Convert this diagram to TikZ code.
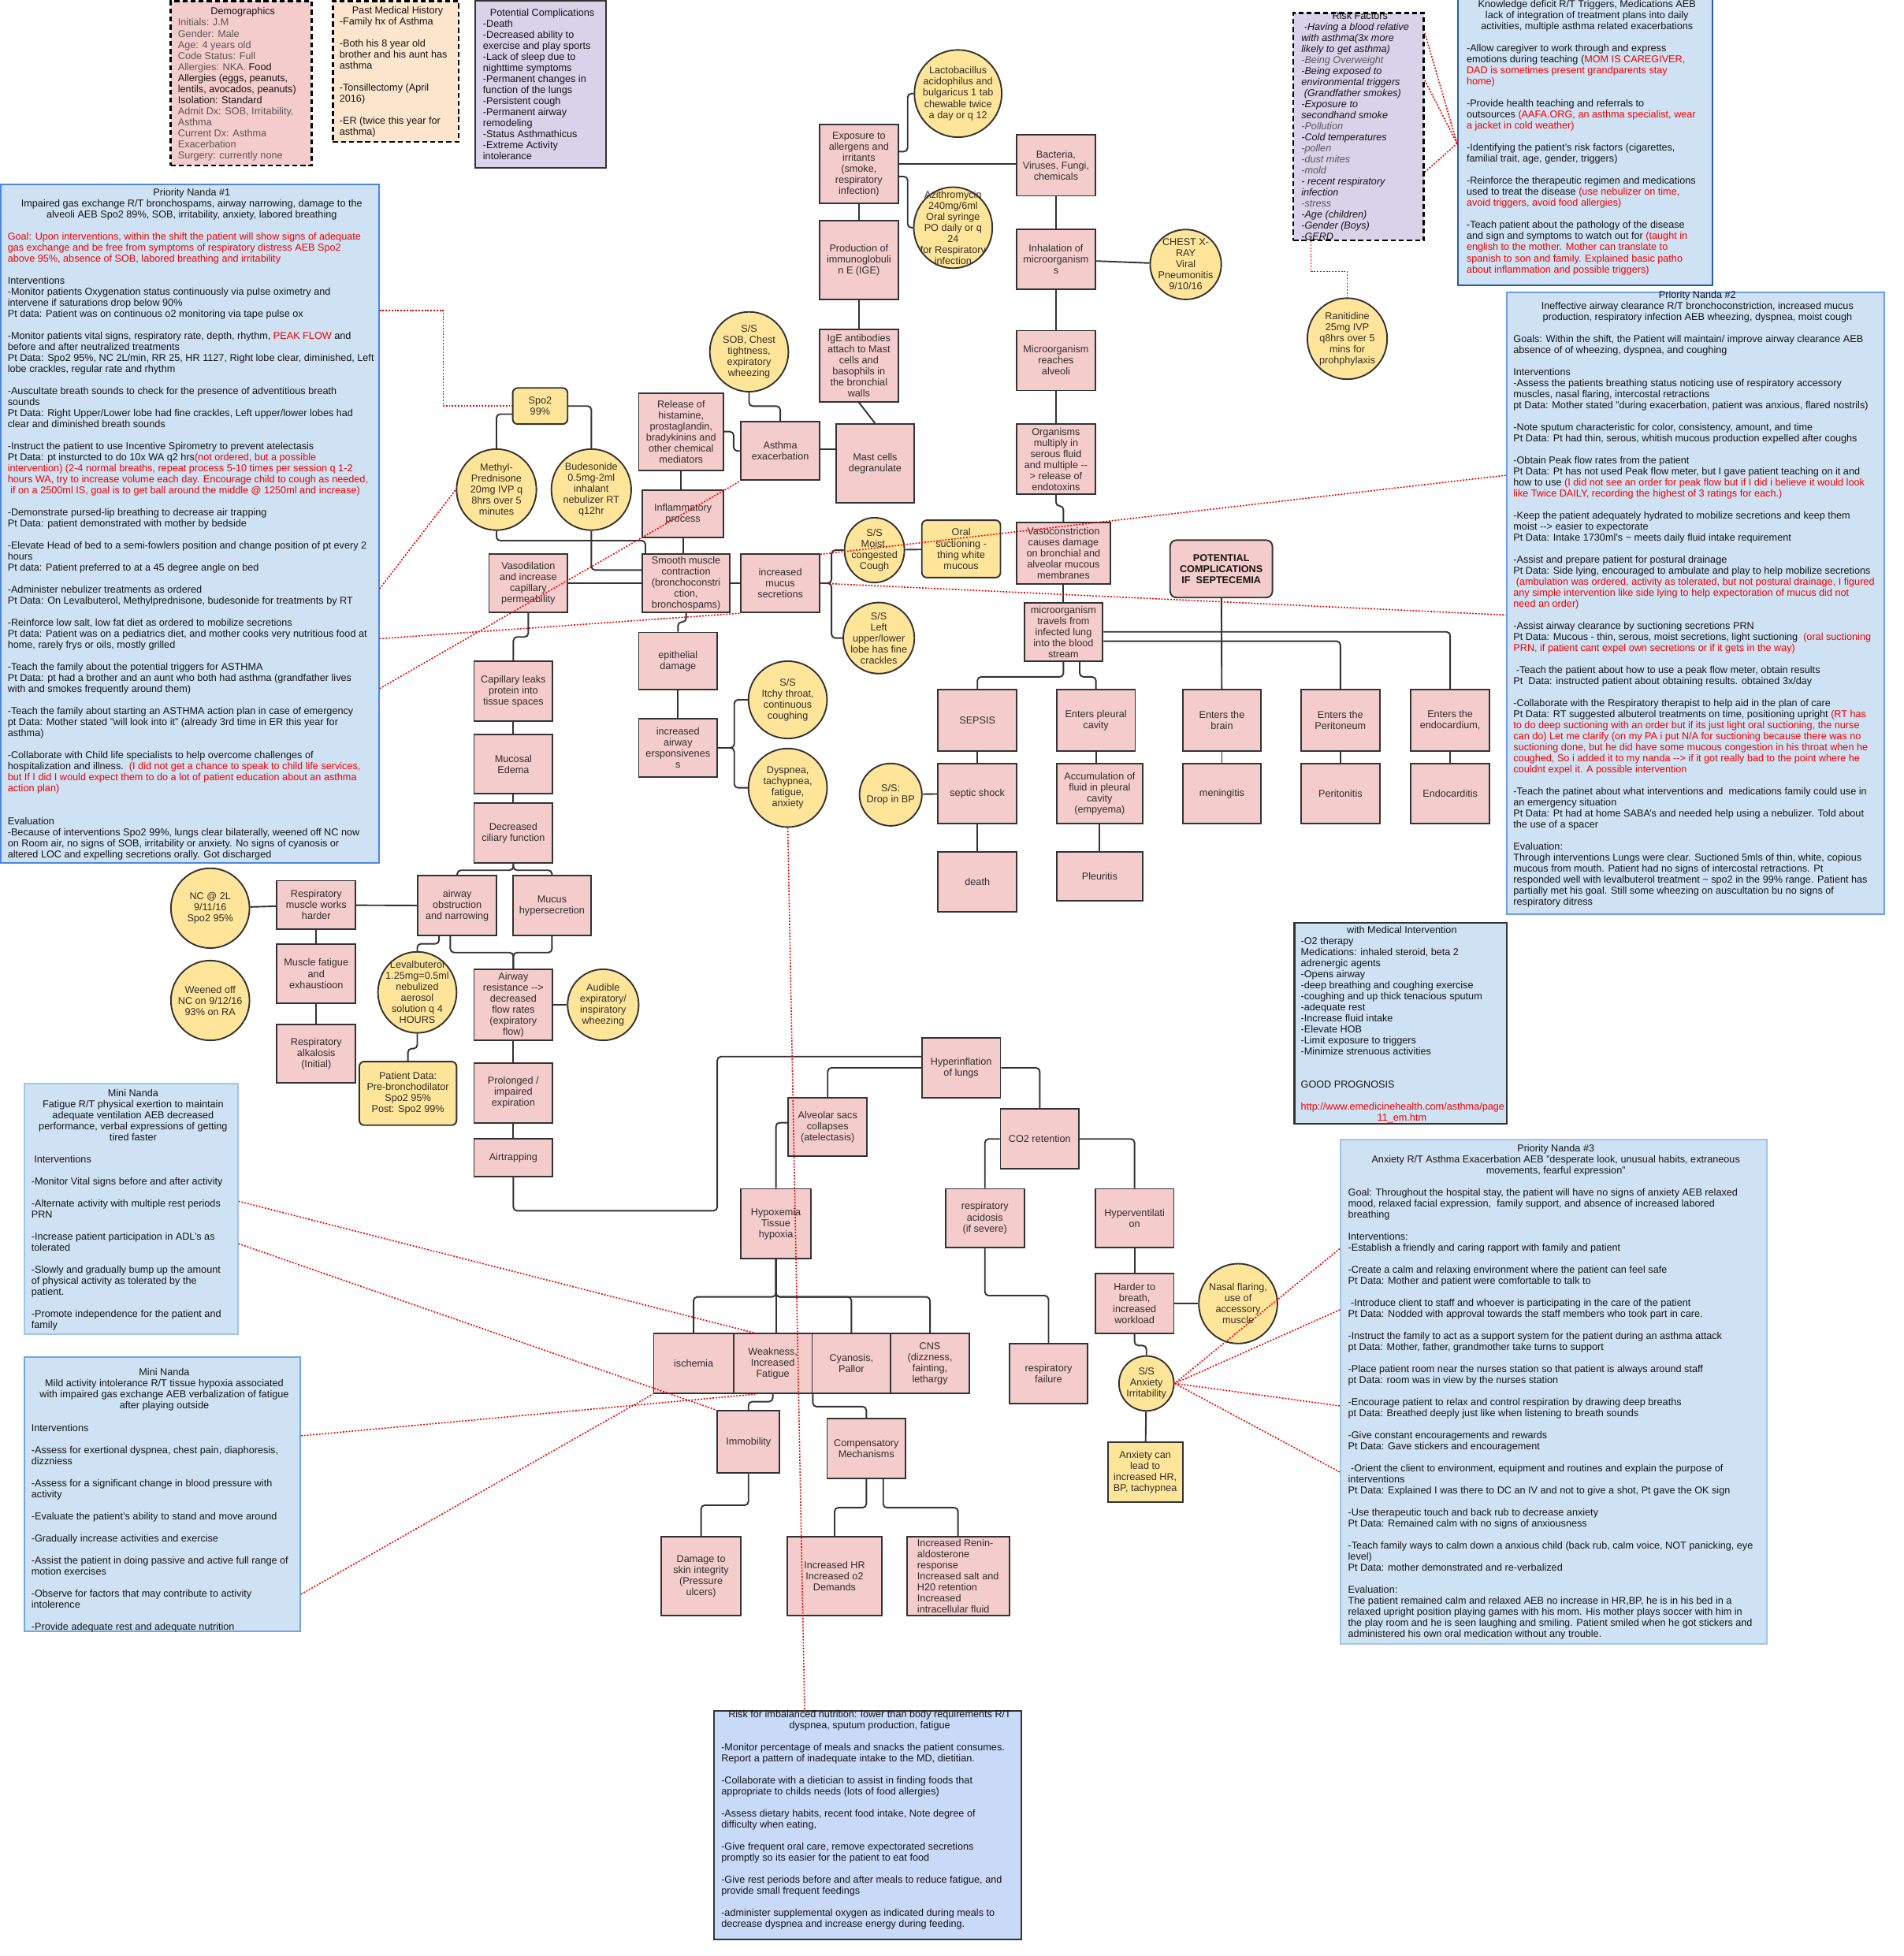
\documentclass[tikz,border=0pt]{standalone}
\usepackage{fontspec}
\setmainfont{Liberation Sans}
\usetikzlibrary{shapes.geometric,positioning,calc}
\definecolor{pinkc}{HTML}{F4CCCC}
\definecolor{yelc}{HTML}{FFE599}
\definecolor{bluec}{HTML}{CFE2F3}
\definecolor{nutric}{HTML}{C9DAF8}
\definecolor{peachc}{HTML}{FCE5CD}
\definecolor{lilac}{HTML}{D9D2E9}
\definecolor{linec}{HTML}{333333}
\definecolor{txtc}{HTML}{141414}
\definecolor{nodet}{HTML}{2E2E2E}
\definecolor{greyt}{HTML}{575757}
\definecolor{redc}{HTML}{F20000}
\definecolor{blueA}{HTML}{4A86E8}
\definecolor{blueB}{HTML}{6D9EEB}
\definecolor{blueC}{HTML}{9FC5E8}
\definecolor{blueD}{HTML}{6FA8DC}
\definecolor{navy}{HTML}{2A5CAA}
\newcommand{\nfont}{\fontsize{8}{8.85}\selectfont}
\setlength{\parindent}{0pt}

\begin{document}
\begin{tikzpicture}[x=1pt, y=-1pt,
  sz/.style 2 args={minimum width=#1pt, minimum height=#2pt},
  pbox/.style={rectangle, draw=linec, line width=1.2pt, fill=pinkc, text=nodet, align=center, font=\nfont, inner xsep=1pt, inner ysep=0.5pt},
  ybox/.style={pbox, fill=yelc, rounded corners=4pt},
  bub/.style={ellipse, draw=linec, line width=1.2pt, fill=yelc, inner sep=0pt},
  bubt/.style={align=center, font=\nfont, text=nodet, inner sep=0pt},
  panel/.style={rectangle, draw=#1, line width=1.3pt, anchor=north west, inner sep=0pt},
  dashpanel/.style={panel=black, line width=1.6pt, dash pattern=on 4pt off 2.5pt},
  blurb/.style={anchor=north west, text width=#1pt, align=flush left, font=\nfont, text=txtc, inner sep=0pt},
  link/.style={draw=linec, line width=1.2pt, rounded corners=3pt},
  note/.style={draw=redc, line width=1pt, dash pattern=on 1.2pt off 1.2pt}
]
\path[use as bounding box, fill=white] (0,0) rectangle (1526,1568);

% ---------- info panels ----------
\node[dashpanel, fill=pinkc, sz={113}{132}] (demo) at (136,0) {};
\node[blurb=104] (demotxt) at (142.5,6) {{\centering Demographics\par}
{\color{greyt}Initials: J.M\\
Gender: Male\\
Age: 4 years old\\
Code Status: Full\\
Allergies: NKA. }Food\\
Allergies (eggs, peanuts,\\
lentils, avocados, peanuts)\\
Isolation: Standard\\
{\color{greyt}Admit Dx: SOB, Irritability,\\
Asthma\\
Current Dx: Asthma\\
Exacerbation\\
Surgery: currently none}};

\node[dashpanel, fill=peachc, sz={101}{113}] (pmh) at (266,0) {};
\node[blurb=93] (pmhtxt) at (272,5.2) {{\centering Past Medical History\par}
-Family hx of Asthma\\[8.85pt]
-Both his 8 year old\\
brother and his aunt has\\
asthma\\[8.85pt]
-Tonsillectomy (April\\
2016)\\[8.85pt]
-ER (twice this year for\\
asthma)};

\node[panel=linec, fill=lilac, sz={105}{134}] (potc) at (380,0) {};
\node[blurb=95] (potctxt) at (387,6.7) {{\centering Potential Complications\par}
-Death\\
-Decreased ability to\\
exercise and play sports\\
-Lack of sleep due to\\
nighttime symptoms\\
-Permanent changes in\\
function of the lungs\\
-Persistent cough\\
-Permanent airway\\
remodeling\\
-Status Asthmathicus\\
-Extreme Activity\\
intolerance};

\node[dashpanel, fill=lilac, sz={104.6}{182.5}] (risk) at (1036,9.5) {};
\node[blurb=94] (risktxt) at (1043,9.2) {{\centering Risk Factors\par}
\itshape
\hspace*{2.2pt}-Having a blood relative\\
with asthma(3x more\\
likely to get asthma)\\
{\color{greyt}-Being Overweight}\\
-Being exposed to\\
environmental triggers\\
\hspace*{2.2pt}(Grandfather smokes)\\
-Exposure to\\
secondhand smoke\\
{\color{greyt}-Pollution}\\
-Cold temperatures\\
{\color{greyt}-pollen\\
-dust mites\\
-mold}\\
- recent respiratory\\
infection\\
{\color{greyt}-stress}\\
-Age (children)\\
-Gender (Boys)\\
-GERD};

\node[panel=navy, line width=1.6pt, fill=bluec, sz={204}{230}] (know) at (1168,-2) {};
\node[blurb=193] (knowtxt) at (1175.5,0.2) {{\centering Knowledge deficit R/T Triggers, Medications AEB\\
lack of integration of treatment plans into daily\\
activities, multiple asthma related exacerbations\par}
\vspace{8.85pt}
-Allow caregiver to work through and express\\
emotions during teaching ({\color{redc}MOM IS CAREGIVER,\\
DAD is sometimes present grandparents stay\\
home)}\\[8.85pt]
-Provide health teaching and referrals to\\
outsources {\color{redc}(AAFA.ORG, an asthma specialist, wear\\
a jacket in cold weather)}\\[8.85pt]
-Identifying the patient's risk factors (cigarettes,\\
familial trait, age, gender, triggers)\\[8.85pt]
-Reinforce the therapeutic regimen and medications\\
used to treat the disease {\color{redc}(use nebulizer on time,\\
avoid triggers, avoid food allergies)}\\[8.85pt]
-Teach patient about the pathology of the disease\\
and sign and symptoms to watch out for {\color{redc}(taught in\\
english to the mother. Mother can translate to\\
spanish to son and family. Explained basic patho\\
about inflammation and possible triggers)}};

\node[panel=blueA, fill=bluec, sz={303}{544}] (nandaA) at (0,147) {};
\node[blurb=295] (nandaAtxt) at (6,150.7) {{\centering Priority Nanda \#1\\
Impaired gas exchange R/T bronchospams, airway narrowing, damage to the\\
alveoli AEB Spo2 89\%, SOB, irritability, anxiety, labored breathing\par}
\vspace{8.85pt}
{\color{redc}Goal: Upon interventions, within the shift the patient will show signs of adequate\\
gas exchange and be free from symptoms of respiratory distress AEB Spo2\\
above 95\%, absence of SOB, labored breathing and irritability}\\[8.85pt]
Interventions\\
-Monitor patients Oxygenation status continuously via pulse oximetry and\\
intervene if saturations drop below 90\%\\
Pt data: Patient was on continuous o2 monitoring via tape pulse ox\\[8.85pt]
-Monitor patients vital signs, respiratory rate, depth, rhythm, {\color{redc}PEAK FLOW} and\\
before and after neutralized treatments\\
Pt Data: Spo2 95\%, NC 2L/min, RR 25, HR 1127, Right lobe clear, diminished, Left\\
lobe crackles, regular rate and rhythm\\[8.85pt]
-Auscultate breath sounds to check for the presence of adventitious breath\\
sounds\\
Pt Data: Right Upper/Lower lobe had fine crackles, Left upper/lower lobes had\\
clear and diminished breath sounds\\[8.85pt]
-Instruct the patient to use Incentive Spirometry to prevent atelectasis\\
Pt Data: pt insturcted to do 10x WA q2 hrs{\color{redc}(not ordered, but a possible\\
intervention) (2-4 normal breaths, repeat process 5-10 times per session q 1-2\\
hours WA, try to increase volume each day. Encourage child to cough as needed,\\
\hspace*{2.2pt}if on a 2500ml IS, goal is to get ball around the middle @ 1250ml and increase)}\\[8.85pt]
-Demonstrate pursed-lip breathing to decrease air trapping\\
Pt Data: patient demonstrated with mother by bedside\\[8.85pt]
-Elevate Head of bed to a semi-fowlers position and change position of pt every 2\\
hours\\
Pt data: Patient preferred to at a 45 degree angle on bed\\[8.85pt]
-Administer nebulizer treatments as ordered\\
Pt Data: On Levalbuterol, Methylprednisone, budesonide for treatments by RT\\[8.85pt]
-Reinforce low salt, low fat diet as ordered to mobilize secretions\\
Pt data: Patient was on a pediatrics diet, and mother cooks very nutritious food at\\
home, rarely frys or oils, mostly grilled\\[8.85pt]
-Teach the family about the potential triggers for ASTHMA\\
Pt Data: pt had a brother and an aunt who both had asthma (grandfather lives\\
with and smokes frequently around them)\\[8.85pt]
-Teach the family about starting an ASTHMA action plan in case of emergency\\
pt Data: Mother stated "will look into it" (already 3rd time in ER this year for\\
asthma)\\[8.85pt]
-Collaborate with Child life specialists to help overcome challenges of\\
hospitalization and illness.\ \ {\color{redc}(I did not get a chance to speak to child life services,\\
but If I did I would expect them to do a lot of patient education about an asthma\\
action plan)}\\[17.7pt]
Evaluation\\
-Because of interventions Spo2 99\%, lungs clear bilaterally, weened off NC now\\
on Room air, no signs of SOB, irritability or anxiety. No signs of cyanosis or\\
altered LOC and expelling secretions orally. Got discharged};

\node[panel=blueB, fill=bluec, sz={303}{498}] (nandaB) at (1207,234) {};
\node[blurb=295] (nandaBtxt) at (1213,233) {{\centering Priority Nanda \#2\\
Ineffective airway clearance R/T bronchoconstriction, increased mucus\\
production, respiratory infection AEB wheezing, dyspnea, moist cough\par}
\vspace{8.85pt}
Goals: Within the shift, the Patient will maintain/ improve airway clearance AEB\\
absence of of wheezing, dyspnea, and coughing\\[8.85pt]
Interventions\\
-Assess the patients breathing status noticing use of respiratory accessory\\
muscles, nasal flaring, intercostal retractions\\
pt Data: Mother stated "during exacerbation, patient was anxious, flared nostrils)\\[8.85pt]
-Note sputum characteristic for color, consistency, amount, and time\\
Pt Data: Pt had thin, serous, whitish mucous production expelled after coughs\\[8.85pt]
-Obtain Peak flow rates from the patient\\
Pt Data: Pt has not used Peak flow meter, but I gave patient teaching on it and\\
how to use {\color{redc}(I did not see an order for peak flow but if I did i believe it would look\\
like Twice DAILY, recording the highest of 3 ratings for each.)}\\[8.85pt]
-Keep the patient adequately hydrated to mobilize secretions and keep them\\
moist -{}-> easier to expectorate\\
Pt Data: Intake 1730ml's \textasciitilde{} meets daily fluid intake requirement\\[8.85pt]
-Assist and prepare patient for postural drainage\\
Pt Data: Side lying, encouraged to ambulate and play to help mobilize secretions\\
\hspace*{2.2pt}{\color{redc}(ambulation was ordered, activity as tolerated, but not postural drainage, I figured\\
any simple intervention like side lying to help expectoration of mucus did not\\
need an order)}\\[8.85pt]
-Assist airway clearance by suctioning secretions PRN\\
Pt Data: Mucous - thin, serous, moist secretions, light suctioning\ \ {\color{redc}(oral suctioning\\
PRN, if patient cant expel own secretions or if it gets in the way)}\\[8.85pt]
\hspace*{2.2pt}-Teach the patient about how to use a peak flow meter, obtain results\\
Pt\ \ Data: instructed patient about obtaining results. obtained 3x/day\\[8.85pt]
-Collaborate with the Respiratory therapist to help aid in the plan of care\\
Pt Data: RT suggested albuterol treatments on time, positioning upright {\color{redc}(RT has\\
to do deep suctioning with an order but if its just light oral suctioning, the nurse\\
can do) Let me clarify (on my PA i put N/A for suctioning because there was no\\
suctioning done, but he did have some mucous congestion in his throat when he\\
coughed, So i added it to my nanda -{}-> if it got really bad to the point where he\\
couldnt expel it. A possible intervention}\\[8.85pt]
-Teach the patinet about what interventions and\ \ medications family could use in\\
an emergency situation\\
Pt Data: Pt had at home SABA's and needed help using a nebulizer. Told about\\
the use of a spacer\\[8.85pt]
Evaluation:\\
Through interventions Lungs were clear. Suctioned 5mls of thin, white, copious\\
mucous from mouth. Patient had no signs of intercostal retractions. Pt\\
responded well with levalbuterol treatment \textasciitilde{} spo2 in the 99\% range. Patient has\\
partially met his goal. Still some wheezing on auscultation bu no signs of\\
respiratory ditress};

\node[panel=linec, fill=bluec, sz={170}{161}] (medi) at (1037,739) {};
\node[blurb=162] (meditxt) at (1042.6,742) {{\centering with Medical Intervention\par}
-O2 therapy\\
Medications: inhaled steroid, beta 2\\
adrenergic agents\\
-Opens airway\\
-deep breathing and coughing exercise\\
-coughing and up thick tenacious sputum\\
-adequate rest\\
-Increase fluid intake\\
-Elevate HOB\\
-Limit exposure to triggers\\
-Minimize strenuous activities\\[17.7pt]
GOOD PROGNOSIS\par
\vspace{8.85pt}
{\centering\color{redc}http://www.emedicinehealth.com/asthma/page\\
11\_em.htm\par}};

\node[panel=blueC, fill=bluec, sz={342}{404}] (nandaC) at (1074,913) {};
\node[blurb=333] (nandaCtxt) at (1080.5,917) {{\centering Priority Nanda \#3\\
Anxiety R/T Asthma Exacerbation AEB "desperate look, unusual habits, extraneous\\
movements, fearful expression"\par}
\vspace{8.85pt}
Goal: Throughout the hospital stay, the patient will have no signs of anxiety AEB relaxed\\
mood, relaxed facial expression,\ \ family support, and absence of increased labored\\
breathing\\[8.85pt]
Interventions:\\
-Establish a friendly and caring rapport with family and patient\\[8.85pt]
-Create a calm and relaxing environment where the patient can feel safe\\
Pt Data: Mother and patient were comfortable to talk to\\[8.85pt]
\hspace*{2.2pt}-Introduce client to staff and whoever is participating in the care of the patient\\
Pt Data: Nodded with approval towards the staff members who took part in care.\\[8.85pt]
-Instruct the family to act as a support system for the patient during an asthma attack\\
pt Data: Mother, father, grandmother take turns to support\\[8.85pt]
-Place patient room near the nurses station so that patient is always around staff\\
pt Data: room was in view by the nurses station\\[8.85pt]
-Encourage patient to relax and control respiration by drawing deep breaths\\
pt Data: Breathed deeply just like when listening to breath sounds\\[8.85pt]
-Give constant encouragements and rewards\\
Pt Data: Gave stickers and encouragement\\[8.85pt]
\hspace*{2.2pt}-Orient the client to environment, equipment and routines and explain the purpose of\\
interventions\\
Pt Data: Explained I was there to DC an IV and not to give a shot, Pt gave the OK sign\\[8.85pt]
-Use therapeutic touch and back rub to decrease anxiety\\
Pt Data: Remained calm with no signs of anxiousness\\[8.85pt]
-Teach family ways to calm down a anxious child (back rub, calm voice, NOT panicking, eye\\
level)\\
Pt Data: mother demonstrated and re-verbalized\\[8.85pt]
Evaluation:\\
The patient remained calm and relaxed AEB no increase in HR,BP, he is in his bed in a\\
relaxed upright position playing games with his mom. His mother plays soccer with him in\\
the play room and he is seen laughing and smiling. Patient smiled when he got stickers and\\
administered his own oral medication without any trouble.};

\node[panel=blueC, fill=bluec, sz={171}{201}] (miniA) at (19,868) {};
\node[blurb=163] (miniAtxt) at (25,873) {{\centering Mini Nanda\\
Fatigue R/T physical exertion to maintain\\
adequate ventilation AEB decreased\\
performance, verbal expressions of getting\\
tired faster\par}
\vspace{8.85pt}
\hspace*{2.2pt}Interventions\\[8.85pt]
-Monitor Vital signs before and after activity\\[8.85pt]
-Alternate activity with multiple rest periods\\
PRN\\[8.85pt]
-Increase patient participation in ADL's as\\
tolerated\\[8.85pt]
-Slowly and gradually bump up the amount\\
of physical activity as tolerated by the\\
patient.\\[8.85pt]
-Promote independence for the patient and\\
family};

\node[panel=blueD, fill=bluec, sz={221}{220}] (miniB) at (19,1087) {};
\node[blurb=213] (miniBtxt) at (25,1097) {{\centering Mini Nanda\\
Mild activity intolerance R/T tissue hypoxia associated\\
with impaired gas exchange AEB verbalization of fatigue\\
after playing outside\par}
\vspace{8.85pt}
Interventions\\[8.85pt]
-Assess for exertional dyspnea, chest pain, diaphoresis,\\
dizzniess\\[8.85pt]
-Assess for a significant change in blood pressure with\\
activity\\[8.85pt]
-Evaluate the patient's ability to stand and move around\\[8.85pt]
-Gradually increase activities and exercise\\[8.85pt]
-Assist the patient in doing passive and active full range of\\
motion exercises\\[8.85pt]
-Observe for factors that may contribute to activity\\
intolerence\\[8.85pt]
-Provide adequate rest and adequate nutrition};

\node[panel=linec, fill=nutric, sz={246}{183}] (nutri) at (572,1371) {};
\node[blurb=238] (nutritxt) at (578,1371) {{\centering Risk for imbalanced nutrition: lower than body requirements R/T\\
dyspnea, sputum production, fatigue\par}
\vspace{8.85pt}
-Monitor percentage of meals and snacks the patient consumes.\\
Report a pattern of inadequate intake to the MD, dietitian.\\[8.85pt]
-Collaborate with a dietician to assist in finding foods that\\
appropriate to childs needs (lots of food allergies)\\[8.85pt]
-Assess dietary habits, recent food intake, Note degree of\\
difficulty when eating,\\[8.85pt]
-Give frequent oral care, remove expectorated secretions\\
promptly so its easier for the patient to eat food\\[8.85pt]
-Give rest periods before and after meals to reduce fatigue, and\\
provide small frequent feedings\\[8.85pt]
-administer supplemental oxygen as indicated during meals to\\
decrease dyspnea and increase energy during feeding.};

% ---------- pathophysiology boxes ----------
\node[pbox, sz={63}{63}] (expo) at (688.5,131.5) {Exposure to\\allergens and\\irritants\\(smoke,\\respiratory\\infection)};
\node[pbox, sz={63}{49}] (bact) at (846.5,132.5) {Bacteria,\\Viruses, Fungi,\\chemicals};
\node[pbox, sz={63}{63}] (ige) at (688.5,208.5) {Production of\\immunoglobuli\\n E (IGE)};
\node[pbox, sz={63}{48}] (inhal) at (846.5,208) {Inhalation of\\microorganism\\s};
\node[pbox, sz={63}{58}] (igeab) at (688.5,293) {IgE antibodies\\attach to Mast\\cells and\\basophils in\\the bronchial\\walls};
\node[pbox, sz={63}{48}] (micro) at (846.5,289) {Microorganism\\reaches\\alveoli};
\node[pbox, sz={68}{62}] (release) at (546,346) {Release of\\histamine,\\prostaglandin,\\bradykinins and\\other chemical\\mediators};
\node[pbox, sz={63}{47}] (asthma) at (625.5,361.5) {Asthma\\exacerbation};
\node[pbox, sz={63}{63}] (mast) at (701.5,371.5) {Mast cells\\degranulate};
\node[pbox, sz={63}{56}] (organ) at (846.5,368) {Organisms\\multiply in\\serous fluid\\and multiple -{}-\\> release of\\endotoxins};
\node[pbox, sz={65}{38}] (inflam) at (547.5,412) {Inflammatory\\process};
\node[pbox, sz={75}{49}] (vaso) at (852.5,443.5) {Vasoconstriction\\causes damage\\on bronchial and\\alveolar mucous\\membranes};
\node[pbox, rounded corners=5pt, font=\nfont\bfseries, text=txtc, sz={82}{46}] (potcomp) at (979,456) {POTENTIAL\\COMPLICATIONS\\IF\ \ SEPTECEMIA};
\node[pbox, sz={63}{47}] (vasodil) at (423.5,467.5) {Vasodilation\\and increase\\capillary\\permeability};
\node[pbox, sz={70}{47}] (smooth) at (550,467.5) {Smooth muscle\\contraction\\(bronchoconstri\\ction,\\bronchospams)};
\node[pbox, sz={63}{47}] (mucus) at (625.5,467.5) {increased\\mucus\\secretions};
\node[pbox, sz={63}{47}] (travel) at (852.5,506.5) {microorganism\\travels from\\infected lung\\into the blood\\stream};
\node[pbox, sz={63}{46}] (epi) at (543.5,530) {epithelial\\damage};
\node[pbox, sz={63}{48}] (capleak) at (411.5,554) {Capillary leaks\\protein into\\tissue spaces};
\node[pbox, sz={63}{47}] (airresp) at (543.5,599.5) {increased\\airway\\ersponsivenes\\s};
\node[pbox, sz={63}{49}] (sepsis) at (783.5,577.5) {SEPSIS};
\node[pbox, sz={63}{49}] (pleural) at (878.5,577.5) {Enters pleural\\cavity};
\node[pbox, sz={63}{49}] (brain) at (979.5,577.5) {Enters the\\brain};
\node[pbox, sz={63}{49}] (perit) at (1074.5,577.5) {Enters the\\Peritoneum};
\node[pbox, sz={63}{49}] (endo) at (1162.5,577.5) {Enters the\\endocardium,};
\node[pbox, sz={63}{47}] (mucedema) at (411.5,612.5) {Mucosal\\Edema};
\node[pbox, sz={63}{48}] (shock) at (783.5,636) {septic shock};
\node[pbox, sz={69}{48}] (empyema) at (881.5,636) {Accumulation of\\fluid in pleural\\cavity\\(empyema)};
\node[pbox, sz={63}{48}] (mening) at (979.5,636) {meningitis};
\node[pbox, sz={63}{48}] (peritonitis) at (1074.5,636) {Peritonitis};
\node[pbox, sz={63}{48}] (endocard) at (1162.5,636) {Endocarditis};
\node[pbox, sz={63}{48}] (cilia) at (411.5,668) {Decreased\\ciliary function};
\node[pbox, sz={63}{48}] (death) at (783.5,707) {death};
\node[pbox, sz={69}{39}] (pleuritis) at (881.5,702.5) {Pleuritis};
\node[pbox, sz={63}{39}] (respmus) at (253.5,725.5) {Respiratory\\muscle works\\harder};
\node[pbox, sz={63}{48}] (obstr) at (366.5,726) {airway\\obstruction\\and narrowing};
\node[pbox, sz={63}{48}] (hyper) at (442.5,726) {Mucus\\hypersecretion};
\node[pbox, sz={63}{47}] (fatigue) at (253.5,780.5) {Muscle fatigue\\and\\exhaustioon};
\node[pbox, sz={63}{57}] (airres) at (411.5,805.5) {Airway\\resistance -{}->\\decreased\\flow rates\\(expiratory\\flow)};
\node[pbox, sz={63}{47}] (alkal) at (253.5,844.5) {Respiratory\\alkalosis\\(Initial)};
\node[pbox, sz={63}{48}] (prolong) at (411.5,876) {Prolonged /\\impaired\\expiration};
\node[pbox, sz={63}{30}] (airtrap) at (411.5,928) {Airtrapping};
\node[pbox, sz={63}{48}] (hyperinf) at (770.5,856) {Hyperinflation\\of lungs};
\node[pbox, sz={63}{47}] (alveolar) at (663.5,903.5) {Alveolar sacs\\collapses\\(atelectasis)};
\node[pbox, sz={63}{48}] (co2) at (833.5,913) {CO2 retention};
\node[pbox, sz={56}{56}] (hypox) at (622,981) {Hypoxemia\\Tissue\\hypoxia};
\node[pbox, sz={63}{47}] (racid) at (789.5,976.5) {respiratory\\acidosis\\(if severe)};
\node[pbox, sz={63}{47}] (hypervent) at (909.5,976.5) {Hyperventilati\\on};
\node[pbox, sz={63}{48}] (harder) at (909.5,1045) {Harder to\\breath,\\increased\\workload};
\node[pbox, sz={64}{48}] (ischemia) at (556,1093) {ischemia};
\node[pbox, sz={63}{48}] (weak) at (619.5,1093) {Weakness,\\Increased\\Fatigue};
\node[pbox, sz={63}{48}] (cyan) at (682.5,1093) {Cyanosis,\\Pallor};
\node[pbox, sz={63}{48}] (cns) at (745.5,1093) {CNS\\(dizzness,\\fainting,\\lethargy};
\node[pbox, sz={63}{48}] (respfail) at (840.5,1101) {respiratory\\failure};
\node[pbox, sz={50}{50}] (immob) at (600,1156) {Immobility};
\node[pbox, sz={63}{48}] (comp) at (694.5,1161) {Compensatory\\Mechanisms};
\node[pbox, sz={64}{63}] (skin) at (562,1263.5) {Damage to\\skin integrity\\(Pressure\\ulcers)};
\node[pbox, sz={76}{63}] (inchr) at (669,1263.5) {Increased HR\\Increased o2\\Demands};
\node[pbox, align=left, sz={82}{63}] (renin) at (768,1263.5) {Increased Renin-\\aldosterone\\response\\Increased salt and\\H20 retention\\Increased\\intracellular fluid};

% ---------- yellow notes ----------
\node[ybox, sz={44}{29}] (spo2) at (433,325.5) {Spo2\\99\%};
\node[ybox, sz={63}{46}] (oral) at (770.5,440) {Oral\\suctioning -\\thing white\\mucous};
\node[ybox, sz={78}{51}] (ptdata) at (327,876.5) {Patient Data:\\Pre-bronchodilator\\Spo2 95\%\\Post: Spo2 99\%};
\node[ybox, rounded corners=0pt, sz={60}{48}] (anxhr) at (918,1180) {Anxiety can\\lead to\\increased HR,\\BP, tachypnea};

\node[bub, sz={70}{70}, label={[bubt]center:{Lactobacillus\\acidophilus and\\bulgaricus 1 tab\\chewable twice\\a day or q 12}}] (lacto) at (768,75) {};
\node[bub, sz={63}{65}, label={[bubt]center:{Azithromycin\\240mg/6ml\\Oral syringe\\PO daily or q\\24\\for Respiratory\\infection}}] (azith) at (764,182.5) {};
\node[bub, sz={57}{56}, label={[bubt]center:{CHEST X-\\RAY\\Viral\\Pneumonitis\\9/10/16}}] (xray) at (950.5,212) {};
\node[bub, sz={64}{65}, label={[bubt]center:{Ranitidine\\25mg IVP\\q8hrs over 5\\mins for\\prohphylaxis}}] (ranit) at (1080,271.5) {};
\node[bub, sz={63}{64}, label={[bubt]center:{S/S\\SOB, Chest\\tightness,\\expiratory\\wheezing}}] (ss1) at (600.5,282) {};
\node[bub, sz={64}{65}, label={[bubt]center:{Methyl-\\Prednisone\\20mg IVP q\\8hrs over 5\\minutes}}] (methyl) at (398,392.5) {};
\node[bub, sz={64}{65}, label={[bubt]center:{Budesonide\\0.5mg-2ml\\inhalant\\nebulizer RT\\q12hr}}] (budes) at (474,392.5) {};
\node[bub, sz={48}{52}, label={[bubt]center:{S/S\\Moist,\\congested\\Cough}}] (ss2) at (701,441) {};
\node[bub, sz={57}{57}, label={[bubt]center:{S/S\\Left\\upper/lower\\lobe has fine\\crackles}}] (ss3) at (704.5,511.5) {};
\node[bub, sz={63}{62}, label={[bubt]center:{S/S\\Itchy throat,\\continuous\\coughing}}] (ss4) at (631.5,561) {};
\node[bub, sz={63}{63}, label={[bubt]center:{Dyspnea,\\tachypnea,\\fatigue,\\anxiety}}] (dysp) at (631.5,631.5) {};
\node[bub, sz={50}{50}, label={[bubt]center:{S/S:\\Drop in BP}}] (ss5) at (714,637) {};
\node[bub, sz={63}{64}, label={[bubt]center:{NC @ 2L\\9/11/16\\Spo2 95\%}}] (nc) at (168.5,728) {};
\node[bub, sz={63}{64}, label={[bubt]center:{Weened off\\NC on 9/12/16\\93\% on RA}}] (weened) at (168.5,802) {};
\node[bub, sz={63}{65}, label={[bubt]center:{Levalbuterol\\1.25mg=0.5ml\\nebulized\\aerosol\\solution q 4\\HOURS}}] (leval) at (334.5,795.5) {};
\node[bub, sz={57}{57}, label={[bubt]center:{Audible\\expiratory/\\inspiratory\\wheezing}}] (audible) at (483.5,805.5) {};
\node[bub, sz={63}{64}, label={[bubt]center:{Nasal flaring,\\use of\\accessory\\muscle}}] (nasal) at (992.5,1045) {};
\node[bub, sz={44}{44}, label={[bubt]center:{S/S\\Anxiety\\Irritability}}] (ss6) at (919,1109) {};

% ---------- connectors ----------
\draw[link] (expo.east) -- (expo.east -| bact.west);
\draw[link] ([yshift=10pt]expo.east) -- ++(7,0) |- (lacto.west);
\draw[link] ([yshift=-10pt]expo.east) -- ++(7,0) |- (azith.west);
\draw[link] (expo) -- (ige);
\draw[link] (ige) -- (igeab);
\draw[link] (igeab.south) -- (mast.north);
\draw[link] (bact) -- (inhal);
\draw[link] (inhal) -- (micro);
\draw[link] (micro) -- (organ);
\draw[link] (inhal) -- (xray);
\draw[link] (organ.south) -- ++(0,9) -| (vaso.north);
\draw[link] (vaso) -- (travel);
\draw[link] (ss1.south) -- ++(0,11) -| (asthma.north);
\draw[link] (release.east) -- ++(7.5,0) |- (asthma.west);
\draw[link] ([yshift=1.5pt]asthma.east) -- ([yshift=1.5pt]asthma.east -| mast.west);
\draw[link] (release.south) -- (release.south |- inflam.north);
\draw[link] (inflam.south) -- (inflam.south |- smooth.north);
\draw[link] ([yshift=-6.5pt]spo2.west) -| (methyl.north);
\draw[link] (spo2.east) -| (budes.north);
\draw[link] (methyl.south) |- ($(smooth.north west)+(3,-10)$) -- ($(smooth.north west)+(3,0)$);
\draw[link] (budes.south) |- ([yshift=10.5pt]smooth.west);
\draw[link] (vasodil) -- (smooth);
\draw[link] (smooth) -- (mucus);
\draw[link] (mucus.east) -- ++(9,0) |- (ss2.west);
\draw[link] (mucus.east) -- ++(9,0) |- (ss3.west);
\draw[link] (ss2) -- (oral);
\draw[link] (smooth.south) -- ++(0,7) -| (epi.north);
\draw[link] (epi) -- (airresp);
\draw[link] (airresp.east) -- ++(13,0) |- (ss4.west);
\draw[link] (airresp.east) -- ++(13,0) |- (dysp.west);
\draw[link] (vasodil.south) -- ++(0,19) -| (capleak.north);
\draw[link] (capleak) -- (mucedema);
\draw[link] (mucedema) -- (cilia);
\draw[link] (cilia.south) -- ++(0,5) -| (obstr.north);
\draw[link] (cilia.south) -- ++(0,5) -| (hyper.north);
\draw[link] (nc) -- (respmus);
\draw[link] (respmus) -- (obstr);
\draw[link] (respmus) -- (fatigue);
\draw[link] (fatigue) -- (alkal);
\draw[link] ([xshift=-14.5pt]obstr.south) -- ++(0,6) -| (leval.north);
\draw[link] ([xshift=-5.5pt]obstr.south) -- ++(0,13) -| (airres.north);
\draw[link] (hyper.south) -- ++(0,13) -| (airres.north);
\draw[link] (leval.south) -- ++(0,12) -| (ptdata.north);
\draw[link] (airres) -- (audible);
\draw[link] (airres) -- (prolong);
\draw[link] (prolong) -- (airtrap);
\draw[link] (airtrap.south) -- ++(0,27) -- ++(163.5,0) |- ([yshift=9pt]hyperinf.west);
\draw[link] (hyperinf.west) -| (alveolar.north);
\draw[link] (hyperinf.east) -| (co2.north);
\draw[link] ([yshift=3.5pt]alveolar.west) -| (hypox.north);
\draw[link] (co2.west) -| (racid.north);
\draw[link] (co2.east) -| (hypervent.north);
\draw[link] (racid.south) -- ++(0,38) -| (respfail.north);
\draw[link] (hypervent) -- (harder);
\draw[link] (harder) -- (nasal);
\draw[link] (harder.south) -- ++(0,9) -| (ss6.north);
\draw[link] (ss6) -- (anxhr);
\draw[link] (hypox.south) -- ++(0,30) -| (ischemia.north);
\draw[link] (hypox.south) -- (hypox.south |- weak.north);
\draw[link] (hypox.south) -- ++(0,30) -| (cyan.north);
\draw[link] (hypox.south) -- ++(0,30) -| (cns.north);
\draw[link] (weak.south) -- ++(0,6) -| (immob.north);
\draw[link] (weak.south east) -- ++(0,10) -| (comp.north);
\draw[link] (immob.south) -- ++(0,25) -| (skin.north);
\draw[link] (comp.south) -- ++(0,23) -| (inchr.north);
\draw[link] ([xshift=13.5pt]comp.south) -- ++(0,23) -| (renin.north);
\draw[link] (travel.south) -- ++(0,12) -| (sepsis.north);
\draw[link] ([xshift=13pt]travel.south) -- ++(0,12) -| (pleural.north);
\draw[link] (travel.east) -| (endo.north);
\draw[link] ([yshift=-7.5pt]travel.east) -| (perit.north);
\draw[link] (potcomp) -- (brain);
\draw[link] (sepsis) -- (shock);
\draw[link] (shock) -- (death);
\draw[link] (pleural.south) -- (pleural.south |- empyema.north);
\draw[link] (empyema) -- (pleuritis);
\draw[link] (brain) -- (mening);
\draw[link] (perit) -- (peritonitis);
\draw[link] (endo) -- (endocard);
\draw[link] (ss5) -- (shock);

% ---------- care plan links ----------
\draw[note] ($(nandaA.north east)+(0,102)$) -| ($(spo2.west)+(-55,0)$) -- (spo2.west);
\draw[note] ($(nandaA.north east)+(0,325)$) -- (methyl.west);
\draw[note] ($(nandaA.north east)+(0,365)$) -- (mucus.south west);
\draw[note] ($(nandaA.north east)+(0,405)$) -- (asthma.south west);
\draw[note] ($(mucus.north east)+(0,1)$) -- ($(nandaB.north west)+(0,147)$);
\draw[note] (mucus.east) -- ($(nandaB.north west)+(0,259)$);
\draw[note] (dysp.south) -- ($(nutri.north west)+(73,0)$);
\draw[note] ($(miniA.north east)+(0,95)$) -- ($(weak.north west)+(17,0)$);
\draw[note] ($(miniA.north east)+(0,129)$) -- (immob.north west);
\draw[note] ($(miniB.north east)+(0,64)$) -- ($(weak.south west)+(18,0)$);
\draw[note] ($(miniB.north east)+(0,191)$) -- (ischemia.south west);
\foreach \dy in {88,137,214,267}
  \draw[note] ($(nandaC.north west)+(0,\dy)$) -- (ss6.east);
\foreach \dy in {17,55,128.5}
  \draw[note] ($(risk.north east)+(0,\dy)$) -- ($(know.north west)+(0,117)$);
\draw[note] ($(risk.south west)+(15,0)$) -- ++(0,24) -| (ranit.north);
\end{tikzpicture}
\end{document}
